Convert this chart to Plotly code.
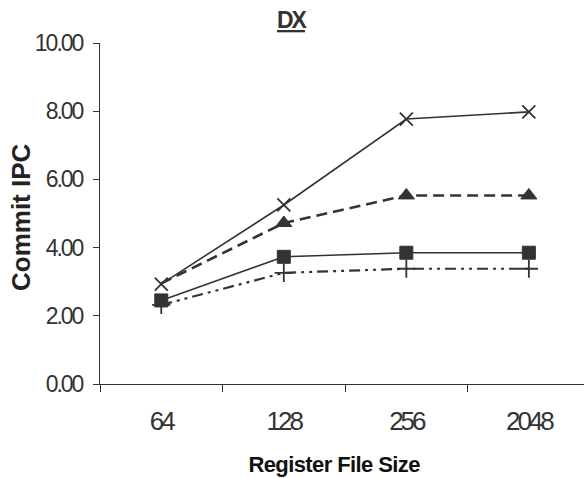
import plotly.graph_objects as go

# Register file sizes (categories) and commit IPC per configuration
sizes = ["64", "128", "256", "2048"]
ipc_x = [2.93, 5.25, 7.77, 7.98]
ipc_triangle = [2.95, 4.72, 5.53, 5.53]
ipc_square = [2.45, 3.73, 3.85, 3.85]
ipc_plus = [2.32, 3.26, 3.38, 3.38]
y_ticks = [0, 2, 4, 6, 8, 10]

INK = "#333333"
SANS = "Liberation Sans, Arial, sans-serif"

fig = go.Figure()

fig.add_trace(go.Scatter(
    x=sizes, y=ipc_x, mode="lines+markers",
    line=dict(color=INK, width=1.6, dash="solid"),
    marker=dict(symbol="x-thin", size=13, color=INK, line=dict(color=INK, width=1.8)),
))
fig.add_trace(go.Scatter(
    x=sizes, y=ipc_triangle, mode="lines+markers",
    line=dict(color=INK, width=2.6, dash="11px,6px"),
    marker=dict(symbol="triangle-up", size=[0, 14, 14, 14], color=INK,
                opacity=1, line=dict(color=INK, width=1)),
))
fig.add_trace(go.Scatter(
    x=sizes, y=ipc_square, mode="lines+markers",
    line=dict(color=INK, width=1.6, dash="solid"),
    marker=dict(symbol="square", size=13, color=INK, line=dict(color=INK, width=1)),
))
fig.add_trace(go.Scatter(
    x=sizes, y=ipc_plus, mode="lines+markers",
    line=dict(color=INK, width=2.2, dash="11px,5px,3px,5px,3px,5px"),
    marker=dict(symbol="cross-thin", size=13, color=INK, line=dict(color=INK, width=1.8)),
))

L, R, T, B = 100, 0, 43, 94
W, H = 584, 478
pw, ph = W - L - R, H - T - B

def px_x(p):
    return (p - L) / pw

def px_y(p):
    return (H - B - p) / ph

fig.update_layout(
    width=W, height=H,
    margin=dict(l=L, r=R, t=T, b=B),
    paper_bgcolor="white", plot_bgcolor="white",
    showlegend=False,
    xaxis=dict(
        type="category", range=[-0.5, 3.45],
        showline=True, linecolor=INK, linewidth=1,
        ticks="outside", ticklen=7, tickcolor=INK, tickwidth=1,
        tickson="boundaries", showgrid=False, zeroline=False,
        tickfont=dict(family=SANS, size=26, color=INK),
        ticklabelstandoff=14,
    ),
    yaxis=dict(
        range=[0, 10], tickvals=y_ticks, tickformat=".2f",
        showline=True, linecolor=INK, linewidth=1,
        ticks="outside", ticklen=6, tickcolor=INK, tickwidth=1,
        showgrid=False, zeroline=False,
        tickfont=dict(family=SANS, size=23, color=INK),
        ticklabelstandoff=6,
    ),
    annotations=[
        dict(text="<b><u>DX</u></b>", x=px_x(291), y=px_y(20), xref="paper", yref="paper",
             showarrow=False, xanchor="center", yanchor="middle",
             font=dict(family=SANS, size=23, color=INK)),
        dict(text="<b>Commit IPC</b>", x=px_x(21), y=px_y(217), xref="paper", yref="paper",
             showarrow=False, xanchor="center", yanchor="middle", textangle=-90,
             font=dict(family=SANS, size=26, color="#222222")),
        dict(text="<b>Register File Size</b>", x=px_x(334), y=px_y(464), xref="paper", yref="paper",
             showarrow=False, xanchor="center", yanchor="middle",
             font=dict(family=SANS, size=22, color="#111111")),
    ],
)

# Tight letter spacing on the tick labels and titles
tighten_js = """
var gd = document.getElementById('{plot_id}');
function tighten() {
  gd.querySelectorAll('.xtick text').forEach(function (t) { t.style.letterSpacing = '-3px'; });
  gd.querySelectorAll('.ytick text').forEach(function (t) { t.style.letterSpacing = '-2px'; });
  gd.querySelectorAll('.annotation-text').forEach(function (t) {
    if (t.textContent === 'Register File Size') { t.style.letterSpacing = '-0.6px'; }
    if (t.textContent === 'DX') { t.style.letterSpacing = '-2px'; }
  });
}
tighten();
gd.on('plotly_afterplot', tighten);
"""

fig.write_html("out.html", post_script=tighten_js)
